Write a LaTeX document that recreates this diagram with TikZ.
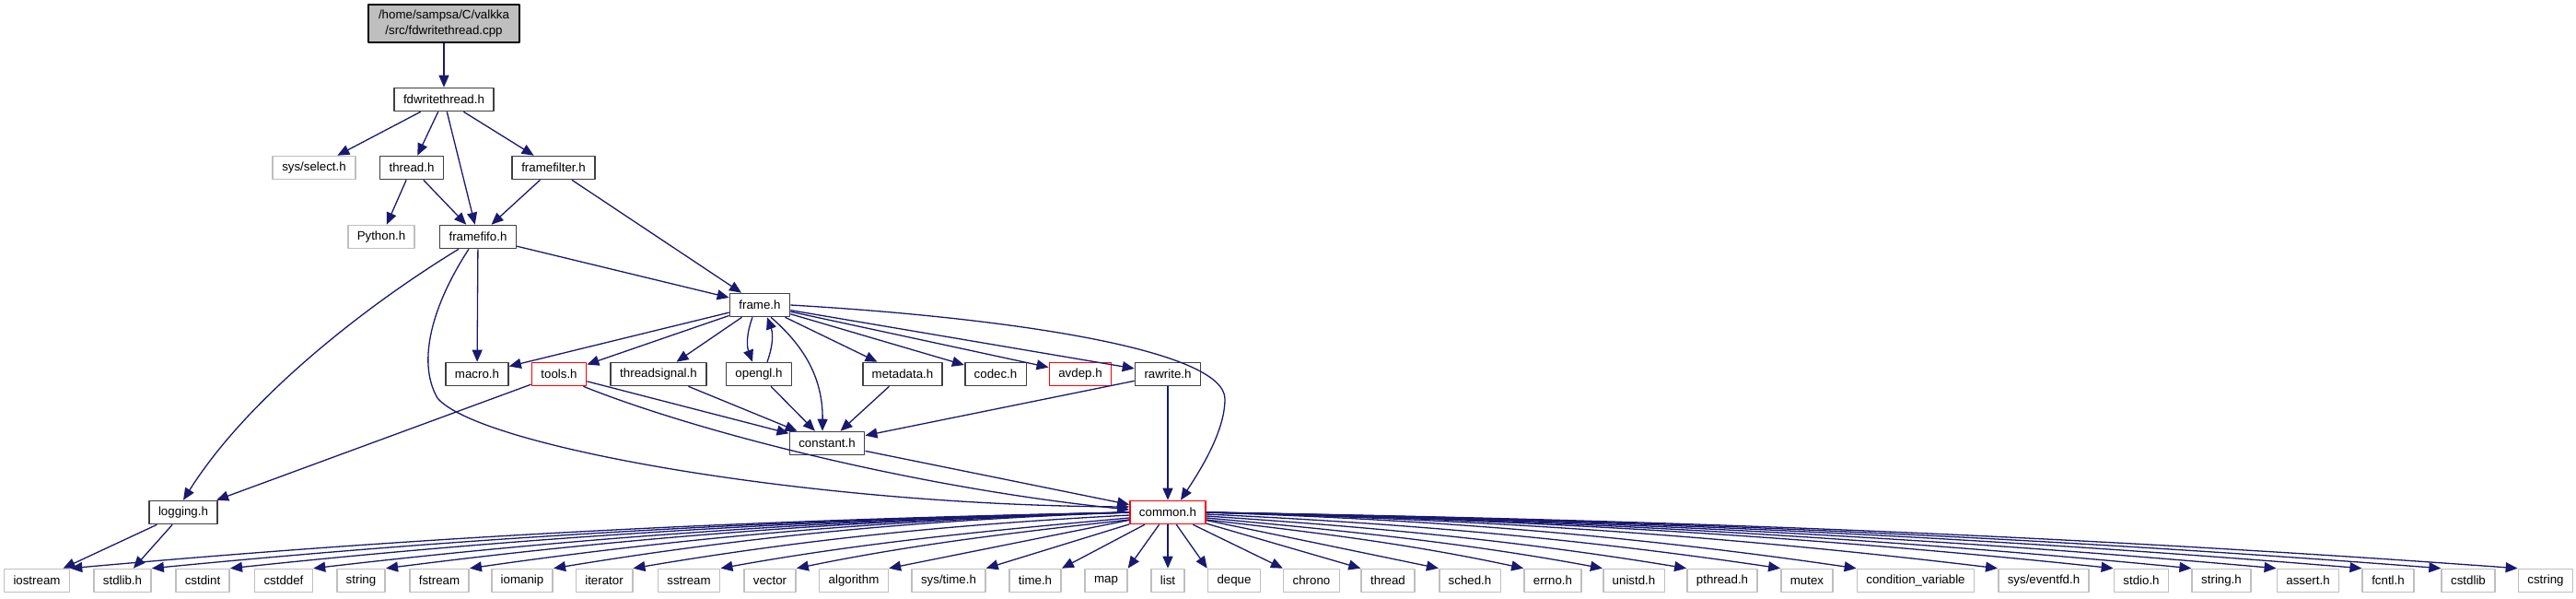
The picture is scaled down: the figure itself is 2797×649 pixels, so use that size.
\documentclass[tikz,border=0pt]{standalone}
\usepackage{fontspec}
\setmainfont{Liberation Sans}
\usetikzlibrary{arrows.meta}
\definecolor{edgeblue}{HTML}{191970}
\definecolor{boxgrey}{HTML}{BFBFBF}
\definecolor{boxdark}{HTML}{404040}
\tikzset{
  hdr/.style={draw=boxdark,line width=1.6pt,fill=white,font=\fontsize{13.3}{16.5}\selectfont,inner xsep=10pt,inner ysep=0pt,minimum height=25pt},
  sysbox/.style={hdr,draw=boxgrey},
  redbox/.style={hdr,draw=red},
  srcbox/.style={hdr,draw=black,fill=boxgrey,align=center,minimum height=41pt,minimum width=164pt},
  dep/.style={->,draw=edgeblue,line width=1.3pt}
}
\begin{document}
\begin{tikzpicture}[x=1pt,y=1pt,>={Triangle[length=13pt,width=11pt]},line join=round]
\useasboundingbox (0,0) rectangle (2797,-649);
% top part
\node[srcbox] (src) at (482,-25.5) {/home/sampsa/C/valkka\\/src/fdwritethread.cpp};
\node[hdr] (fdw) at (482,-108) {fdwritethread.h};
\node[sysbox] (sysselect) at (341,-182) {sys/select.h};
\node[hdr] (threadh) at (447,-182) {thread.h};
\node[hdr] (framefilter) at (601,-182) {framefilter.h};
\node[sysbox] (python) at (414,-257) {Python.h};
\node[hdr] (framefifo) at (519,-257) {framefifo.h};
\node[hdr] (frame) at (825,-331) {frame.h};
% middle row
\node[hdr] (macro) at (518,-406) {macro.h};
\node[redbox] (tools) at (607,-406) {tools.h};
\node[hdr] (threadsignal) at (715,-406) {threadsignal.h};
\node[hdr] (opengl) at (824,-406) {opengl.h};
\node[hdr] (metadata) at (980,-406) {metadata.h};
\node[hdr] (codec) at (1081,-406) {codec.h};
\node[redbox] (avdep) at (1173,-406) {avdep.h};
\node[hdr] (rawrite) at (1268,-406) {rawrite.h};
\node[hdr] (constant) at (898,-481) {constant.h};
\node[hdr] (logging) at (199,-556) {logging.h};
\node[redbox] (common) at (1268,-556) {common.h};
% system headers
\node[sysbox] (iostream) at (40,-630) {iostream};
\node[sysbox] (stdlibh) at (133,-630) {stdlib.h};
\node[sysbox] (cstdint) at (220,-630) {cstdint};
\node[sysbox] (cstddef) at (308,-630) {cstddef};
\node[sysbox] (string) at (392,-630) {string};
\node[sysbox] (fstream) at (477,-630) {fstream};
\node[sysbox] (iomanip) at (567,-630) {iomanip};
\node[sysbox] (iterator) at (656,-630) {iterator};
\node[sysbox] (sstream) at (748,-630) {sstream};
\node[sysbox] (vector) at (836,-630) {vector};
\node[sysbox] (algorithm) at (927,-630) {algorithm};
\node[sysbox] (systimeh) at (1030,-630) {sys/time.h};
\node[sysbox] (timeh) at (1124,-630) {time.h};
\node[sysbox] (map) at (1201,-630) {map};
\node[sysbox] (list) at (1268,-630) {list};
\node[sysbox] (deque) at (1340,-630) {deque};
\node[sysbox] (chrono) at (1424,-630) {chrono};
\node[sysbox] (threadstd) at (1507,-630) {thread};
\node[sysbox] (schedh) at (1596,-630) {sched.h};
\node[sysbox] (errnoh) at (1686,-630) {errno.h};
\node[sysbox] (unistdh) at (1774,-630) {unistd.h};
\node[sysbox] (pthreadh) at (1870,-630) {pthread.h};
\node[sysbox] (mutex) at (1962,-630) {mutex};
\node[sysbox] (condvar) at (2080,-630) {condition\_variable};
\node[sysbox] (syseventfdh) at (2219,-630) {sys/eventfd.h};
\node[sysbox] (stdioh) at (2325,-630) {stdio.h};
\node[sysbox] (stringh) at (2412,-630) {string.h};
\node[sysbox] (asserth) at (2506,-630) {assert.h};
\node[sysbox] (fcntlh) at (2593,-630) {fcntl.h};
\node[sysbox] (cstdlib) at (2680,-630) {cstdlib};
\node[sysbox] (cstring) at (2764,-630) {cstring};
% upper edges
\draw[dep] (src) -- (fdw);
\draw[dep] (fdw) -- (sysselect);
\draw[dep] (fdw) -- (threadh);
\draw[dep] (fdw) -- (framefifo);
\draw[dep] (fdw) -- (framefilter);
\draw[dep] (threadh) -- (python);
\draw[dep] (threadh) -- (framefifo);
\draw[dep] (framefilter) -- (framefifo);
\draw[dep] (framefilter) -- (frame);
\draw[dep] (framefifo) -- (frame);
\draw[dep] (framefifo) -- (macro);
\draw[dep] ([xshift=-21pt]framefifo.south) .. controls (400,-330) and (270,-430) .. (logging.north);
\draw[dep] ([xshift=-10pt]framefifo.south) .. controls (470,-330) and (452,-392) .. (475,-432) .. controls (520,-485) and (880,-548) .. ([yshift=6pt]common.west);
% frame.h
\draw[dep] (frame) -- (macro);
\draw[dep] (frame) -- (tools);
\draw[dep] (frame) -- (threadsignal);
\draw[dep] ([xshift=-8pt]frame.south) to[bend right=20] ([xshift=-7pt]opengl.north);
\draw[dep] ([xshift=9pt]opengl.north) to[bend right=20] ([xshift=8pt]frame.south);
\draw[dep] ([xshift=12pt]frame.south) to[bend left=25] ([xshift=-5pt]constant.north);
\draw[dep] (frame) -- (metadata);
\draw[dep] (frame) -- (codec);
\draw[dep] (frame) -- (avdep);
\draw[dep] (frame) -- (rawrite);
\draw[dep] (frame.east) .. controls (1100,-345) and (1330,-380) .. (1330,-433) .. controls (1330,-470) and (1300,-515) .. ([xshift=14pt]common.north);
% middle edges
\draw[dep] (tools) -- (logging);
\draw[dep] (tools) -- (constant);
\draw[dep] ([xshift=-4pt]tools.south east) .. controls (760,-470) and (1000,-530) .. ([yshift=3pt]common.west);
\draw[dep] (threadsignal) -- (constant);
\draw[dep] (opengl) -- (constant);
\draw[dep] (metadata) -- (constant);
\draw[dep] (rawrite) -- (constant);
\draw[dep] (rawrite) -- (common);
\draw[dep] (constant) -- (common);
\draw[dep] (logging) -- (iostream);
\draw[dep] (logging) -- (stdlibh);
% common.h to system headers, left side
\draw[dep] (common.west) .. controls +(-403,-8) and +(403,36) .. (iostream.north east);
\draw[dep] (common.west) .. controls +(-372,-8) and +(372,36) .. (stdlibh.north east);
\draw[dep] (common.west) .. controls +(-341,-8) and +(341,36) .. (cstdint.north east);
\draw[dep] (common.west) .. controls +(-310,-8) and +(310,36) .. (cstddef.north east);
\draw[dep] (common.west) .. controls +(-282,-8) and +(282,36) .. (string.north east);
\draw[dep] (common.west) .. controls +(-251,-8) and +(251,36) .. (fstream.north east);
\draw[dep] (common.west) .. controls +(-219,-8) and +(219,36) .. (iomanip.north east);
\draw[dep] ([yshift=-3pt]common.west) .. controls +(-189,-10) and +(189,32) .. (iterator.north east);
\draw[dep] ([yshift=-6pt]common.west) .. controls +(-155,-14) and +(155,28) .. (sstream.north east);
\draw[dep] ([yshift=-8pt]common.west) .. controls +(-127,-14) and +(127,26) .. (vector.north east);
\draw[dep] (common) -- (algorithm.north east);
\draw[dep] (common) -- (systimeh.north east);
\draw[dep] (common) -- (timeh.north east);
\draw[dep] (common) -- (map.north east);
\draw[dep] (common) -- (list);
% common.h to system headers, right side
\draw[dep] (common) -- (deque.north west);
\draw[dep] (common) -- (chrono.north west);
\draw[dep] (common) -- (threadstd.north west);
\draw[dep] (common) -- (schedh.north west);
\draw[dep] ([yshift=-8pt]common.east) .. controls +(121,-14) and +(-121,26) .. (errnoh.north west);
\draw[dep] ([yshift=-6pt]common.east) .. controls +(151,-14) and +(-151,28) .. (unistdh.north west);
\draw[dep] ([yshift=-4pt]common.east) .. controls +(183,-12) and +(-183,30) .. (pthreadh.north west);
\draw[dep] ([yshift=-2pt]common.east) .. controls +(218,-10) and +(-218,32) .. (mutex.north west);
\draw[dep] (common.east) .. controls +(247,-8) and +(-247,36) .. (condvar.north west);
\draw[dep] (common.east) .. controls +(301,-8) and +(-301,36) .. (syseventfdh.north west);
\draw[dep] (common.east) .. controls +(344,-8) and +(-344,36) .. (stdioh.north west);
\draw[dep] (common.east) .. controls +(375,-8) and +(-375,36) .. (stringh.north west);
\draw[dep] (common.east) .. controls +(407,-8) and +(-407,36) .. (asserth.north west);
\draw[dep] (common.east) .. controls +(439,-8) and +(-439,36) .. (fcntlh.north west);
\draw[dep] (common.east) .. controls +(469,-8) and +(-469,36) .. (cstdlib.north west);
\draw[dep] (common.east) .. controls +(498,-8) and +(-498,36) .. (cstring.north west);
\end{tikzpicture}
\end{document}
